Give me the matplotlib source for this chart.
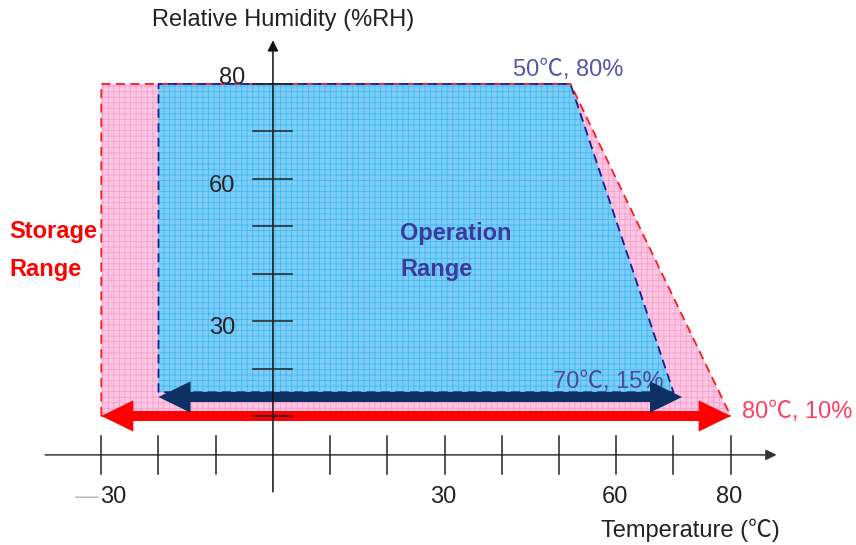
import matplotlib.pyplot as plt
from matplotlib.patches import Polygon

plt.rcParams['font.family'] = ['Liberation Sans', 'Noto Sans CJK SC', 'DejaVu Sans']
plt.rcParams['hatch.linewidth'] = 0.6

# ===============================
# 1. Data
# ===============================
storage_temp = [-30, -30, 52, 80]
storage_rh = [10, 80, 80, 10]
operation_temp = [-20, -20, 52, 70]
operation_rh = [15, 80, 80, 15]

x_ticks = [-30, -20, -10, 10, 20, 30, 40, 50, 60, 70, 80]
x_labels = {30: "30", 60: "60", 80: "80"}
y_ticks = [10, 20, 30, 40, 50, 60, 70, 80]
y_labels = {30: "30", 60: "60", 80: "80"}

storage_arrow = (-30, 80, 10)      # from, to, rh
operation_arrow = (-20, 71.5, 14)

x_axis_rh = 1.8
fs = 17

# ===============================
# 2. Figure
# ===============================
fig = plt.figure(figsize=(8.56, 5.45), dpi=100)
ax = fig.add_axes([0, 0, 1, 1])
ax.set_xlim(-47.7, 101.9)
ax.set_ylim(-17.2, 97.7)
ax.axis("off")

# regions
pink, pink_hatch, red = "#ffc6e4", "#f4a2cc", "#ff1a1a"
blue, blue_hatch, navy = "#80ccf8", "#3dbdf0", "#1c1c8c"

ax.add_patch(Polygon(list(zip(storage_temp, storage_rh)), closed=True,
                     facecolor=pink, edgecolor="none", zorder=1))
ax.add_patch(Polygon(list(zip(storage_temp, storage_rh)), closed=True,
                     fill=False, hatch="+++", edgecolor=pink_hatch, lw=0, zorder=1.1))
ax.add_patch(Polygon(list(zip(operation_temp, operation_rh)), closed=True,
                     facecolor=blue, edgecolor="none", zorder=2))
ax.add_patch(Polygon(list(zip(operation_temp, operation_rh)), closed=True,
                     fill=False, hatch="+++", edgecolor=blue_hatch, lw=0, zorder=2.1))

ax.plot(storage_temp + storage_temp[:1], storage_rh + storage_rh[:1],
        ls=(0, (5, 3)), color=red, lw=1.3, zorder=3)
ax.plot(operation_temp + operation_temp[:1], operation_rh + operation_rh[:1],
        ls=(0, (5, 3)), color=navy, lw=1.3, zorder=3.1)

# ===============================
# 3. Double arrows
# ===============================
def double_arrow(x0, x1, y, color, z):
    mid = (x0 + x1) / 2
    for start, end in ((mid + 3, x0), (mid - 3, x1)):
        ax.arrow(start, y, end - start, 0, width=2.1, head_width=6.6, head_length=5.6,
                 length_includes_head=True, color=color, lw=0, zorder=z)

double_arrow(storage_arrow[0], storage_arrow[1], storage_arrow[2], "#ff0000", 4)
double_arrow(operation_arrow[0], operation_arrow[1], operation_arrow[2], "#0d2f62", 4.1)

# ===============================
# 4. Axes with ticks
# ===============================
axis_col = "#333333"
ax.annotate("", xy=(88.5, x_axis_rh), xytext=(-40.3, x_axis_rh),
            arrowprops=dict(arrowstyle="-|>", color=axis_col, lw=1.1,
                            mutation_scale=16), zorder=5)
ax.annotate("", xy=(0, 89.8), xytext=(0, -6.6),
            arrowprops=dict(arrowstyle="-|>", color="#111111", lw=1.1,
                            mutation_scale=16), zorder=5)

for t in x_ticks:
    ax.plot([t, t], [x_axis_rh - 4.0, x_axis_rh + 4.0], color="#222222", lw=1.1, zorder=5)
for h in y_ticks:
    ax.plot([-3.4, 3.4], [h, h], color="#222222", lw=1.1, zorder=5)

for t, lab in x_labels.items():
    ax.text(t - 0.3, -7.1, lab, fontsize=fs, ha="center", va="center", color="#222222")
ax.text(-28.0, -7.1, "30", fontsize=fs, ha="center", va="center", color="#222222")
ax.text(-32.6, -7.0, "—", fontsize=fs, ha="center", va="center", color="#bbbbbb")

ax.text(-7.2, 81.2, y_labels[80], fontsize=fs, ha="center", va="center", color="#222222")
ax.text(-8.9, 58.5, y_labels[60], fontsize=fs, ha="center", va="center", color="#222222")
ax.text(-8.9, 28.6, y_labels[30], fontsize=fs, ha="center", va="center", color="#222222")

ax.text(1.8, 93.5, "Relative Humidity (%RH)", fontsize=fs, ha="center", va="center",
        color="#222222")
ax.text(72.9, -14.0, "Temperature (℃)", fontsize=fs, ha="center", va="center",
        color="#222222")

# ===============================
# 5. Annotations
# ===============================
ax.text(-46.0, 48.8, "Storage", fontsize=fs, fontweight="bold", color="#ff0000",
        ha="left", va="center")
ax.text(-46.0, 40.8, "Range", fontsize=fs, fontweight="bold", color="#ff0000",
        ha="left", va="center")
ax.text(22.2, 48.4, "Operation", fontsize=fs, fontweight="bold", color="#3a3aa0",
        ha="left", va="center")
ax.text(22.2, 40.8, "Range", fontsize=fs, fontweight="bold", color="#3a3aa0",
        ha="left", va="center")

ax.text(42.0, 83.0, "50℃, 80%", fontsize=fs, color="#5555aa", ha="left", va="center")
ax.text(49.0, 17.2, "70℃, 15%", fontsize=fs, color="#4a4aa0", ha="left", va="center")
ax.text(82.0, 10.8, "80℃, 10%", fontsize=fs, color="#ff4060", ha="left", va="center")

fig.savefig("out.png", dpi=100)
